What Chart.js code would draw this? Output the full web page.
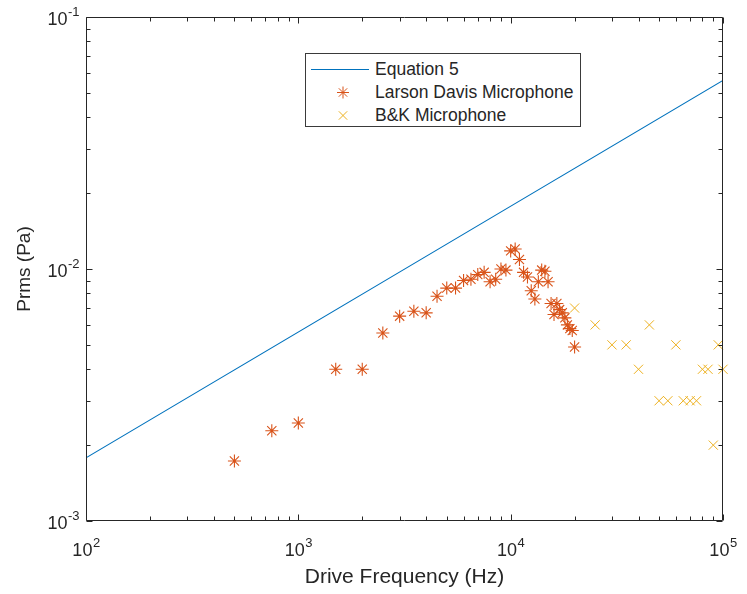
<!DOCTYPE html>
<html>
<head>
<meta charset="utf-8">
<script src="https://cdn.jsdelivr.net/npm/chart.js@4/dist/chart.umd.min.js"></script>
<style>
html,body{margin:0;padding:0;background:#fff;}
#wrap{position:relative;width:747px;height:594px;}
#legend{position:absolute;left:305px;top:53px;width:274px;height:72px;border:1px solid #3a3a3a;background:#fff;
  font-family:Arial,"Liberation Sans",Helvetica,sans-serif;font-size:17.5px;color:#262626;}
.row{position:absolute;left:0;width:100%;height:23px;line-height:23px;}
.row svg{position:absolute;left:4px;top:0;}
.row span{position:absolute;left:69px;top:0;white-space:nowrap;}
</style>
</head>
<body>
<div id="wrap">
  <canvas id="c" width="747" height="594"></canvas>
  <div id="legend"></div>
</div>
<script>
// ---- data ----
const seriesNames = ['Equation 5', 'Larson Davis Microphone', 'B&K Microphone'];

const equationFreq = [100, 100000];
const equationPrms = [0.00178, 0.0560];

const larsonFreq = [500, 750, 1000, 1500, 2000, 2500, 3000, 3500, 4000, 4500, 5000, 5500, 6000, 6500,
  7000, 7500, 8000, 8500, 9000, 9500, 10000, 10500, 11000, 11500, 12000, 12500, 13000, 13500, 14000,
  14500, 15000, 15500, 16000, 16500, 17000, 17500, 18000, 18500, 19000, 19500, 20000];
const larsonPrms = [0.00173, 0.00228, 0.00245, 0.0040, 0.0040, 0.00557, 0.0065, 0.0068, 0.0067, 0.0078,
  0.0084, 0.0084, 0.0090, 0.0091, 0.0095, 0.0097, 0.0089, 0.0091, 0.0100, 0.0099, 0.0118, 0.0120,
  0.0109, 0.0097, 0.0093, 0.0082, 0.0076, 0.0089, 0.0099, 0.0098, 0.0089, 0.0073, 0.0066, 0.0073,
  0.0069, 0.0067, 0.0064, 0.0060, 0.0058, 0.0057, 0.0049];

const bkFreq = [20000, 25000, 30000, 35000, 40000, 45000, 50000, 55000, 60000, 65000, 70000, 75000,
  80000, 85000, 90000, 95000, 100000];
const bkPrms = [0.007, 0.006, 0.005, 0.005, 0.004, 0.006, 0.003, 0.003, 0.005, 0.003, 0.003, 0.003,
  0.004, 0.004, 0.002, 0.005, 0.004];

const xTickValues = [100, 1000, 10000, 100000];
const xTickExponents = ['2', '3', '4', '5'];
const yTickValues = [0.001, 0.01, 0.1];
const yTickExponents = ['-3', '-2', '-1'];
const tickBase = '10';

const xTitle = 'Drive Frequency (Hz)';
const yTitle = 'Prms (Pa)';

const colors = ['#0072BD', '#D95319', '#EDB120'];
const FONT = 'Arial, "Liberation Sans", Helvetica, sans-serif';
const TEXT = '#262626';

const toPts = (xs, ys) => xs.map((x, i) => ({x: x, y: ys[i]}));

function decadeTicks(scale) {
  const lo = Math.floor(Math.log10(scale.min) + 1e-9);
  const hi = Math.ceil(Math.log10(scale.max) - 1e-9);
  const t = [];
  for (let e = lo; e <= hi; e++) {
    for (let m = 1; m <= 9; m++) {
      const v = m * Math.pow(10, e);
      if (v >= scale.min * 0.999999 && v <= scale.max * 1.000001) t.push({value: v, major: m === 1});
    }
  }
  scale.ticks = t;
}

const axesPlugin = {
  id: 'matlabAxes',
  afterDatasetsDraw(chart) {
    const ctx = chart.ctx, a = chart.chartArea;
    const xs = chart.scales.x, ys = chart.scales.y;
    const L = Math.round(a.left) + 0.5, R = Math.round(a.right) - 0.5;
    const T = Math.round(a.top) + 0.5, B = Math.round(a.bottom) - 0.5;
    ctx.save();
    ctx.strokeStyle = '#262626';
    ctx.lineWidth = 1;
    ctx.beginPath();
    ctx.rect(L, T, R - L, B - T);
    // inward ticks on all four sides
    xs.ticks.forEach(t => {
      const p = Math.round(xs.getPixelForValue(t.value)) + 0.5;
      const len = t.major ? 6 : 4;
      ctx.moveTo(p, B); ctx.lineTo(p, B - len);
      ctx.moveTo(p, T); ctx.lineTo(p, T + len);
    });
    ys.ticks.forEach(t => {
      const p = Math.round(ys.getPixelForValue(t.value)) + 0.5;
      const len = t.major ? 6 : 4;
      ctx.moveTo(L, p); ctx.lineTo(L + len, p);
      ctx.moveTo(R, p); ctx.lineTo(R - len, p);
    });
    ctx.stroke();

    // tick labels 10^n
    ctx.fillStyle = TEXT;
    ctx.textBaseline = 'alphabetic';
    ctx.textAlign = 'left';
    const baseFont = '18px ' + FONT, expFont = '13px ' + FONT;
    const measure = (exp) => {
      ctx.font = baseFont; const wb = ctx.measureText(tickBase).width;
      ctx.font = expFont; const we = ctx.measureText(exp).width;
      return [wb, we];
    };
    const drawLabel = (x0, baseY, exp) => {
      const [wb] = measure(exp);
      ctx.font = baseFont; ctx.fillText(tickBase, x0, baseY);
      ctx.font = expFont; ctx.fillText(exp, x0 + wb + 0.5, baseY - 9);
    };
    xTickValues.forEach((v, i) => {
      const p = xs.getPixelForValue(v);
      const [wb, we] = measure(xTickExponents[i]);
      drawLabel(p - (wb + we) / 2, a.bottom + 34.5, xTickExponents[i]);
    });
    yTickValues.forEach((v, i) => {
      const p = ys.getPixelForValue(v);
      const [wb, we] = measure(yTickExponents[i]);
      drawLabel(a.left - 7 - (wb + we), p + 7.5, yTickExponents[i]);
    });
    ctx.restore();
  }
};

const chart = new Chart(document.getElementById('c'), {
  type: 'scatter',
  data: {
    datasets: [
      {
        label: seriesNames[0],
        data: toPts(equationFreq, equationPrms),
        showLine: true,
        borderColor: colors[0],
        backgroundColor: colors[0],
        borderWidth: 1.1,
        pointRadius: 0,
        pointHoverRadius: 0,
        order: 3
      },
      {
        label: seriesNames[1],
        data: toPts(larsonFreq, larsonPrms),
        showLine: false,
        pointStyle: 'star',
        pointRadius: 6.5,
        pointBorderWidth: 1.1,
        borderColor: colors[1],
        backgroundColor: colors[1],
        clip: false,
        order: 2
      },
      {
        label: seriesNames[2],
        data: toPts(bkFreq, bkPrms),
        showLine: false,
        pointStyle: 'crossRot',
        pointRadius: 6.5,
        pointBorderWidth: 1,
        borderColor: colors[2],
        backgroundColor: colors[2],
        clip: false,
        order: 1
      }
    ]
  },
  options: {
    responsive: false,
    animation: false,
    events: [],
    layout: {padding: {left: 0, right: 24, top: 17, bottom: 0}},
    plugins: {legend: {display: false}, tooltip: {enabled: false}},
    scales: {
      x: {
        type: 'logarithmic',
        position: 'bottom',
        min: 100, max: 100000,
        afterBuildTicks: decadeTicks,
        afterFit: s => { s.height = 73; },
        grid: {display: false},
        border: {display: false},
        ticks: {display: false},
        title: {display: true, text: xTitle, color: TEXT, font: {family: FONT, size: 21},
                padding: {top: 0, bottom: 4.5}}
      },
      y: {
        type: 'logarithmic',
        position: 'left',
        min: 0.001, max: 0.1,
        afterBuildTicks: decadeTicks,
        afterFit: s => { s.width = 86; },
        grid: {display: false},
        border: {display: false},
        ticks: {display: false},
        title: {display: true, text: yTitle, color: TEXT, font: {family: FONT, size: 19},
                padding: {top: 13, bottom: 0}}
      }
    }
  },
  plugins: [axesPlugin]
});

// legend built from the chart's datasets
(function buildLegend() {
  const box = document.getElementById('legend');
  const tops = [4, 27, 50];
  chart.data.datasets.forEach((ds, i) => {
    const row = document.createElement('div');
    row.className = 'row';
    row.style.top = tops[i] + 'px';
    const c = ds.borderColor;
    let svg;
    if (i === 0) {
      svg = `<svg width="60" height="23"><line x1="1" y1="11.5" x2="59" y2="11.5" stroke="${c}" stroke-width="1.1"/></svg>`;
    } else if (ds.pointStyle === 'star') {
      svg = `<svg width="60" height="23"><g stroke="${c}" stroke-width="1"><line x1="27" y1="11.5" x2="39" y2="11.5"/><line x1="33" y1="5.5" x2="33" y2="17.5"/><line x1="28.8" y1="7.3" x2="37.2" y2="15.7"/><line x1="28.8" y1="15.7" x2="37.2" y2="7.3"/></g></svg>`;
    } else {
      svg = `<svg width="60" height="23"><g stroke="${c}" stroke-width="1"><line x1="28.8" y1="7.3" x2="37.2" y2="15.7"/><line x1="28.8" y1="15.7" x2="37.2" y2="7.3"/></g></svg>`;
    }
    row.innerHTML = svg + '<span></span>';
    row.querySelector('span').textContent = ds.label;
    box.appendChild(row);
  });
})();
</script>
</body>
</html>
